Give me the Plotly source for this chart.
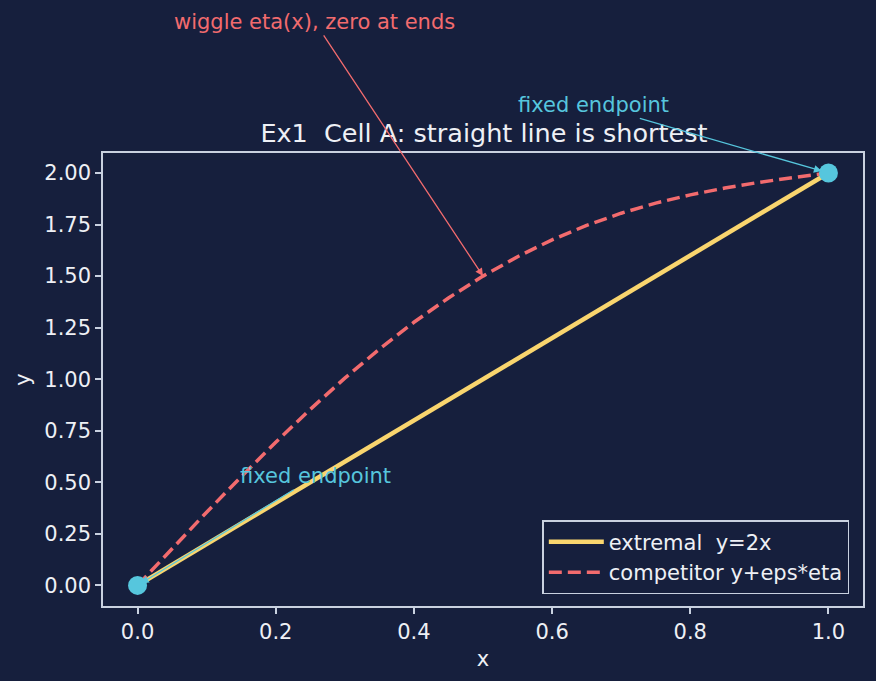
import plotly.graph_objects as go

# ---- data ----
x_vals = [0.00, 0.05, 0.10, 0.15, 0.20, 0.25, 0.30, 0.35, 0.40, 0.45, 0.50,
          0.55, 0.60, 0.65, 0.70, 0.75, 0.80, 0.85, 0.90, 0.95, 1.00]
extremal_y = [0.00, 0.10, 0.20, 0.30, 0.40, 0.50, 0.60, 0.70, 0.80, 0.90, 1.00,
              1.10, 1.20, 1.30, 1.40, 1.50, 1.60, 1.70, 1.80, 1.90, 2.00]
competitor_y = [0.00, 0.178, 0.355, 0.527, 0.694, 0.854, 1.005, 1.146, 1.276, 1.394, 1.50,
                1.594, 1.676, 1.746, 1.805, 1.854, 1.894, 1.927, 1.955, 1.978, 2.00]
endpoint_x = [0.0, 1.0]
endpoint_y = [0.0, 2.0]

x_ticks = [0.0, 0.2, 0.4, 0.6, 0.8, 1.0]
x_ticklabels = ["0.0", "0.2", "0.4", "0.6", "0.8", "1.0"]
y_ticks = [0.00, 0.25, 0.50, 0.75, 1.00, 1.25, 1.50, 1.75, 2.00]
y_ticklabels = ["0.00", "0.25", "0.50", "0.75", "1.00", "1.25", "1.50", "1.75", "2.00"]

title_text = "Ex1  Cell A: straight line is shortest"

BG = "#161f3d"
FG = "#eef0f5"
AXIS = "#c9d1e0"
YELLOW = "#f9d56e"
RED = "#f26b6e"
CYAN = "#56c6dd"
FONT = "DejaVu Sans"

fig = go.Figure()

fig.add_trace(go.Scatter(
    x=x_vals, y=extremal_y, mode="lines", name="extremal  y=2x",
    line=dict(color=YELLOW, width=4.5)))
fig.add_trace(go.Scatter(
    x=x_vals, y=competitor_y, mode="lines", name="competitor y+eps*eta",
    line=dict(color=RED, width=3.5, dash="13px,6px")))
fig.add_trace(go.Scatter(
    x=endpoint_x, y=endpoint_y, mode="markers", showlegend=False,
    marker=dict(color=CYAN, size=19, line=dict(width=0))))

fig.add_annotation(
    x=0.5, y=1.5, ax=0.2565, ay=2.733, xref="x", yref="y", axref="x", ayref="y",
    text="wiggle eta(x), zero at ends", showarrow=True, arrowhead=2, arrowsize=1.2,
    arrowwidth=1.3, arrowcolor=RED, font=dict(color=RED, size=21, family=FONT))
fig.add_annotation(
    x=1.0, y=2.0, ax=0.6594, ay=2.330, xref="x", yref="y", axref="x", ayref="y",
    text="fixed endpoint", showarrow=True, arrowhead=2, arrowsize=1.2, standoff=7,
    arrowwidth=1.3, arrowcolor=CYAN, font=dict(color=CYAN, size=21, family=FONT))
fig.add_annotation(
    x=0.0, y=0.0, ax=0.258, ay=0.529, xref="x", yref="y", axref="x", ayref="y",
    text="fixed endpoint", showarrow=True, arrowhead=2, arrowsize=1.2, standoff=4,
    arrowwidth=1.3, arrowcolor=CYAN, font=dict(color=CYAN, size=21, family=FONT))

axis_common = dict(
    showline=True, linecolor=AXIS, linewidth=1.5, mirror=True,
    ticks="outside", ticklen=6, tickwidth=1.5, tickcolor=AXIS,
    showgrid=False, zeroline=False,
    tickfont=dict(color=FG, size=21, family=FONT),
)

fig.update_layout(
    width=876, height=681,
    paper_bgcolor=BG, plot_bgcolor=BG,
    margin=dict(l=103, r=11, t=153, b=75),
    font=dict(family=FONT, color=FG, size=21),
    title=dict(text=title_text, x=0.5525, xanchor="center",
               y=1 - 133 / 681, yanchor="middle", yref="container",
               font=dict(size=25.5, color=FG, family=FONT)),
    xaxis=dict(range=[-0.05, 1.05], tickvals=x_ticks, ticktext=x_ticklabels,
               title=dict(text="x", standoff=8, font=dict(size=21, color=FG)),
               **axis_common),
    yaxis=dict(range=[-0.1, 2.097], tickvals=y_ticks, ticktext=y_ticklabels,
               title=dict(text="y", standoff=8, font=dict(size=21, color=FG)),
               **axis_common),
    legend=dict(x=0.982, y=0.026, xanchor="right", yanchor="bottom",
                bgcolor=BG, bordercolor=AXIS, borderwidth=1.5,
                font=dict(size=21, color=FG, family=FONT),
                tracegroupgap=0, itemwidth=55),
)

fig.write_html("out.html")
